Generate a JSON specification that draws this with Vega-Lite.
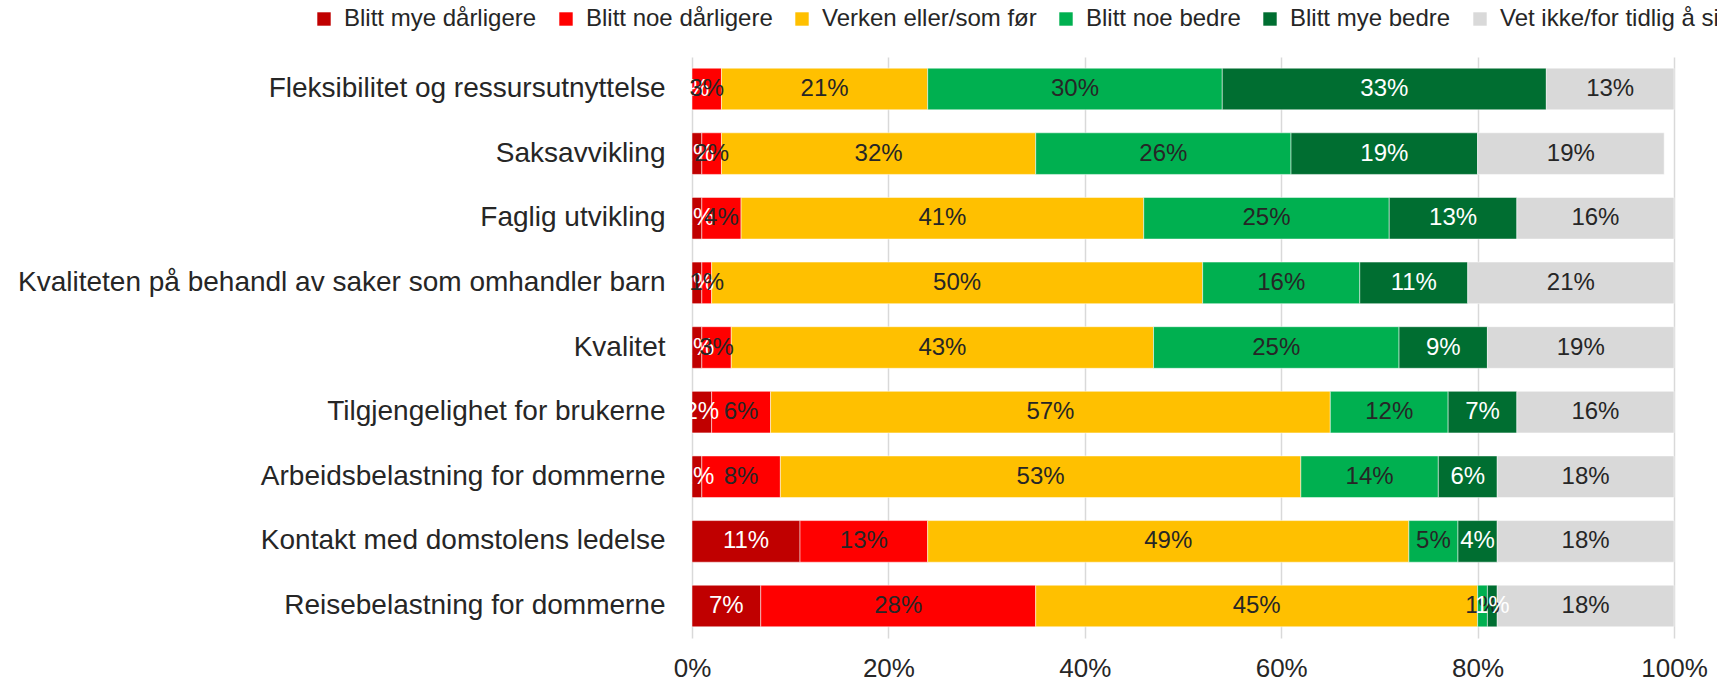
{
  "$schema": "https://vega.github.io/schema/vega-lite/v6.json",
  "autosize": {"type": "none"},
  "width": 982,
  "height": 581,
  "padding": {"left": 692, "top": 57, "right": 43, "bottom": 48},
  "background": "white",
  "config": {
    "view": {"stroke": null},
    "font": "Liberation Sans"
  },
  "data": {
    "values": [
      {"kategori": "Fleksibilitet og ressursutnyttelse", "svar": "Blitt mye dårligere", "nr": 1, "andel": 0.0},
      {"kategori": "Fleksibilitet og ressursutnyttelse", "svar": "Blitt noe dårligere", "nr": 2, "andel": 0.03},
      {"kategori": "Fleksibilitet og ressursutnyttelse", "svar": "Verken eller/som før", "nr": 3, "andel": 0.21},
      {"kategori": "Fleksibilitet og ressursutnyttelse", "svar": "Blitt noe bedre", "nr": 4, "andel": 0.30},
      {"kategori": "Fleksibilitet og ressursutnyttelse", "svar": "Blitt mye bedre", "nr": 5, "andel": 0.33},
      {"kategori": "Fleksibilitet og ressursutnyttelse", "svar": "Vet ikke/for tidlig å si", "nr": 6, "andel": 0.13},
      {"kategori": "Saksavvikling", "svar": "Blitt mye dårligere", "nr": 1, "andel": 0.01},
      {"kategori": "Saksavvikling", "svar": "Blitt noe dårligere", "nr": 2, "andel": 0.02},
      {"kategori": "Saksavvikling", "svar": "Verken eller/som før", "nr": 3, "andel": 0.32},
      {"kategori": "Saksavvikling", "svar": "Blitt noe bedre", "nr": 4, "andel": 0.26},
      {"kategori": "Saksavvikling", "svar": "Blitt mye bedre", "nr": 5, "andel": 0.19},
      {"kategori": "Saksavvikling", "svar": "Vet ikke/for tidlig å si", "nr": 6, "andel": 0.19},
      {"kategori": "Faglig utvikling", "svar": "Blitt mye dårligere", "nr": 1, "andel": 0.01},
      {"kategori": "Faglig utvikling", "svar": "Blitt noe dårligere", "nr": 2, "andel": 0.04},
      {"kategori": "Faglig utvikling", "svar": "Verken eller/som før", "nr": 3, "andel": 0.41},
      {"kategori": "Faglig utvikling", "svar": "Blitt noe bedre", "nr": 4, "andel": 0.25},
      {"kategori": "Faglig utvikling", "svar": "Blitt mye bedre", "nr": 5, "andel": 0.13},
      {"kategori": "Faglig utvikling", "svar": "Vet ikke/for tidlig å si", "nr": 6, "andel": 0.16},
      {"kategori": "Kvaliteten på behandl av saker som omhandler barn", "svar": "Blitt mye dårligere", "nr": 1, "andel": 0.01},
      {"kategori": "Kvaliteten på behandl av saker som omhandler barn", "svar": "Blitt noe dårligere", "nr": 2, "andel": 0.01},
      {"kategori": "Kvaliteten på behandl av saker som omhandler barn", "svar": "Verken eller/som før", "nr": 3, "andel": 0.50},
      {"kategori": "Kvaliteten på behandl av saker som omhandler barn", "svar": "Blitt noe bedre", "nr": 4, "andel": 0.16},
      {"kategori": "Kvaliteten på behandl av saker som omhandler barn", "svar": "Blitt mye bedre", "nr": 5, "andel": 0.11},
      {"kategori": "Kvaliteten på behandl av saker som omhandler barn", "svar": "Vet ikke/for tidlig å si", "nr": 6, "andel": 0.21},
      {"kategori": "Kvalitet", "svar": "Blitt mye dårligere", "nr": 1, "andel": 0.01},
      {"kategori": "Kvalitet", "svar": "Blitt noe dårligere", "nr": 2, "andel": 0.03},
      {"kategori": "Kvalitet", "svar": "Verken eller/som før", "nr": 3, "andel": 0.43},
      {"kategori": "Kvalitet", "svar": "Blitt noe bedre", "nr": 4, "andel": 0.25},
      {"kategori": "Kvalitet", "svar": "Blitt mye bedre", "nr": 5, "andel": 0.09},
      {"kategori": "Kvalitet", "svar": "Vet ikke/for tidlig å si", "nr": 6, "andel": 0.19},
      {"kategori": "Tilgjengelighet for brukerne", "svar": "Blitt mye dårligere", "nr": 1, "andel": 0.02},
      {"kategori": "Tilgjengelighet for brukerne", "svar": "Blitt noe dårligere", "nr": 2, "andel": 0.06},
      {"kategori": "Tilgjengelighet for brukerne", "svar": "Verken eller/som før", "nr": 3, "andel": 0.57},
      {"kategori": "Tilgjengelighet for brukerne", "svar": "Blitt noe bedre", "nr": 4, "andel": 0.12},
      {"kategori": "Tilgjengelighet for brukerne", "svar": "Blitt mye bedre", "nr": 5, "andel": 0.07},
      {"kategori": "Tilgjengelighet for brukerne", "svar": "Vet ikke/for tidlig å si", "nr": 6, "andel": 0.16},
      {"kategori": "Arbeidsbelastning for dommerne", "svar": "Blitt mye dårligere", "nr": 1, "andel": 0.01},
      {"kategori": "Arbeidsbelastning for dommerne", "svar": "Blitt noe dårligere", "nr": 2, "andel": 0.08},
      {"kategori": "Arbeidsbelastning for dommerne", "svar": "Verken eller/som før", "nr": 3, "andel": 0.53},
      {"kategori": "Arbeidsbelastning for dommerne", "svar": "Blitt noe bedre", "nr": 4, "andel": 0.14},
      {"kategori": "Arbeidsbelastning for dommerne", "svar": "Blitt mye bedre", "nr": 5, "andel": 0.06},
      {"kategori": "Arbeidsbelastning for dommerne", "svar": "Vet ikke/for tidlig å si", "nr": 6, "andel": 0.18},
      {"kategori": "Kontakt med domstolens ledelse", "svar": "Blitt mye dårligere", "nr": 1, "andel": 0.11},
      {"kategori": "Kontakt med domstolens ledelse", "svar": "Blitt noe dårligere", "nr": 2, "andel": 0.13},
      {"kategori": "Kontakt med domstolens ledelse", "svar": "Verken eller/som før", "nr": 3, "andel": 0.49},
      {"kategori": "Kontakt med domstolens ledelse", "svar": "Blitt noe bedre", "nr": 4, "andel": 0.05},
      {"kategori": "Kontakt med domstolens ledelse", "svar": "Blitt mye bedre", "nr": 5, "andel": 0.04},
      {"kategori": "Kontakt med domstolens ledelse", "svar": "Vet ikke/for tidlig å si", "nr": 6, "andel": 0.18},
      {"kategori": "Reisebelastning for dommerne", "svar": "Blitt mye dårligere", "nr": 1, "andel": 0.07},
      {"kategori": "Reisebelastning for dommerne", "svar": "Blitt noe dårligere", "nr": 2, "andel": 0.28},
      {"kategori": "Reisebelastning for dommerne", "svar": "Verken eller/som før", "nr": 3, "andel": 0.45},
      {"kategori": "Reisebelastning for dommerne", "svar": "Blitt noe bedre", "nr": 4, "andel": 0.01},
      {"kategori": "Reisebelastning for dommerne", "svar": "Blitt mye bedre", "nr": 5, "andel": 0.01},
      {"kategori": "Reisebelastning for dommerne", "svar": "Vet ikke/for tidlig å si", "nr": 6, "andel": 0.18}
    ]
  },
  "transform": [
    {"stack": "andel", "groupby": ["kategori"], "sort": [{"field": "nr", "order": "ascending"}], "as": ["x0", "x1"]},
    {"calculate": "(datum.x0 + datum.x1) / 2", "as": "xmid"}
  ],
  "encoding": {
    "y": {
      "field": "kategori",
      "type": "nominal",
      "sort": null,
      "scale": {"paddingInner": 0.356, "paddingOuter": 0.173},
      "axis": {
        "title": null,
        "domain": false,
        "ticks": false,
        "labelFontSize": 28,
        "labelColor": "#262626",
        "labelPadding": 27,
        "labelLimit": 700
      }
    }
  },
  "layer": [
    {
      "mark": {"type": "bar", "stroke": "white", "strokeWidth": 0.5},
      "encoding": {
        "x": {
          "field": "x0",
          "type": "quantitative",
          "scale": {"domain": [0, 1], "nice": false},
          "axis": {
            "title": null,
            "format": ".0%",
            "values": [0, 0.2, 0.4, 0.6, 0.8, 1],
            "domain": false,
            "ticks": false,
            "grid": true,
            "gridColor": "#d9d9d9",
            "gridWidth": 1.5,
            "labelFontSize": 26,
            "labelColor": "#262626",
            "labelPadding": 17,
            "labelFlush": false,
            "labelOverlap": false
          }
        },
        "x2": {"field": "x1"},
        "color": {
          "field": "svar",
          "type": "nominal",
          "scale": {
            "domain": ["Blitt mye dårligere", "Blitt noe dårligere", "Verken eller/som før", "Blitt noe bedre", "Blitt mye bedre", "Vet ikke/for tidlig å si"],
            "range": ["#C00000", "#FF0000", "#FFC000", "#00B050", "#006E31", "#D9D9D9"]
          },
          "legend": {
            "title": null,
            "orient": "none",
            "direction": "horizontal",
            "legendX": -380,
            "legendY": -50,
            "symbolType": "square",
            "symbolSize": 180,
            "symbolStrokeWidth": 0,
            "labelFontSize": 24,
            "labelColor": "#262626",
            "labelOffset": 8,
            "columnPadding": 17,
            "labelLimit": 400
          }
        }
      }
    },
    {
      "mark": {"type": "text", "fontSize": 24, "align": "center", "baseline": "middle"},
      "encoding": {
        "x": {"field": "xmid", "type": "quantitative"},
        "text": {"field": "andel", "type": "quantitative", "format": ".0%"},
        "color": {
          "condition": {"test": "datum.svar === 'Blitt mye dårligere' || datum.svar === 'Blitt mye bedre'", "value": "white"},
          "value": "#262626"
        }
      }
    }
  ]
}
